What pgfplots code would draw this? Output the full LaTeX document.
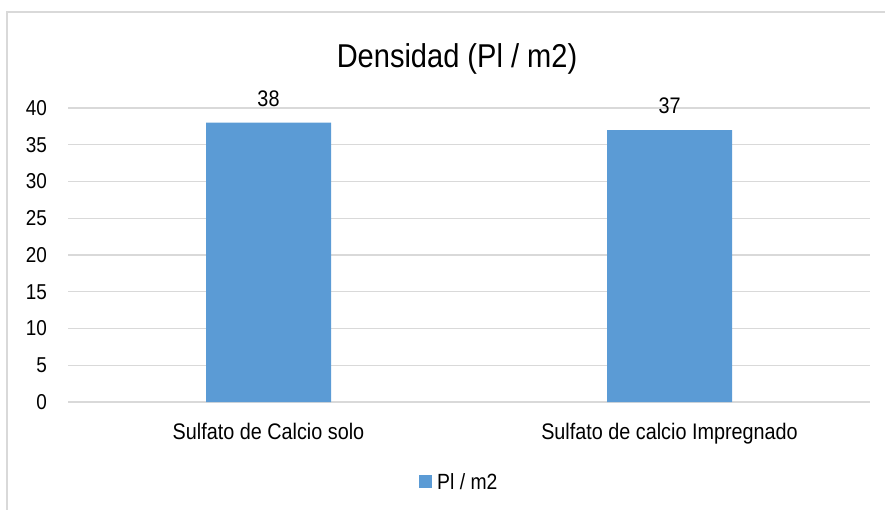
\documentclass[border=0pt]{standalone}
\usepackage{fontspec}
\setmainfont{Liberation Sans}[FakeStretch=0.88]
\usepackage{pgfplots}
\pgfplotsset{compat=1.18}
\definecolor{barblue}{HTML}{5B9BD5}
\definecolor{gridgray}{HTML}{D9D9D9}
\begin{document}
\begin{tikzpicture}[x=1bp,y=1bp]
\useasboundingbox (0,0) rectangle (885,-510);
\draw[gridgray, line width=1.5bp] (7,-530) -- (7,-12) -- (900,-12);
\node[anchor=base, inner sep=0pt, font=\fontsize{33bp}{40bp}\selectfont] at (457,-67.7) {Densidad (Pl / m2)};
\begin{axis}[
  at={(68bp,-402bp)}, anchor=south west,
  scale only axis, width=802bp, height=294bp,
  xmin=-0.5, xmax=1.5, ymin=0, ymax=40,
  ytick={0,5,...,40}, xtick={0,1},
  xticklabels={Sulfato de Calcio solo, Sulfato de calcio Impregnado},
  axis line style={draw=none}, major tick length=0pt,
  ymajorgrids, grid style={gridgray, line width=1.4bp},
  /pgf/number format/assume math mode=true,
  yticklabel style={font=\fontsize{21.5bp}{26bp}\selectfont, anchor=east, inner sep=0pt, xshift=-21bp},
  xticklabel style={font=\fontsize{22.5bp}{27bp}\selectfont, anchor=base, inner sep=0pt, yshift=-37bp},
  ybar, bar width=125bp,
  nodes near coords,
  nodes near coords style={font=\fontsize{22.5bp}{27bp}\selectfont, anchor=base, inner sep=0pt, yshift=16.7bp, black},
  legend style={at={(0.4377,-0.2738)}, anchor=west, draw=none, fill=none, inner sep=0pt,
    nodes={inner sep=0pt}, font=\fontsize{22bp}{26bp}\selectfont,
    /tikz/every odd column/.append style={column sep=5.3bp}},
  legend image code/.code={\fill[#1] (0bp,-5bp) rectangle (12.7bp,7.7bp);},
  clip=false,
]
\addplot[fill=barblue, draw=none] coordinates {(0,38) (1,37)};
\addlegendentry{Pl / m2}
\end{axis}
\end{tikzpicture}
\end{document}
